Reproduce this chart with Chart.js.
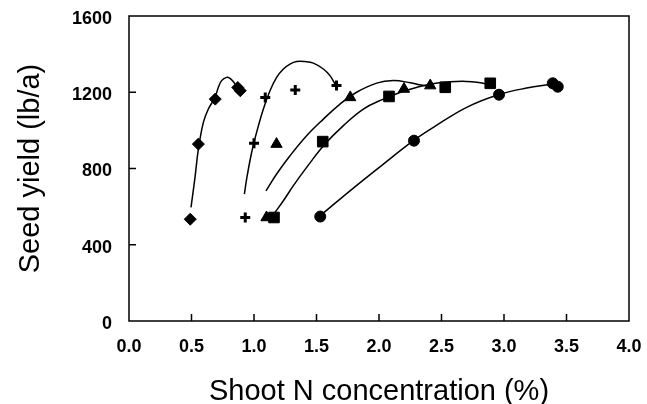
<!DOCTYPE html>
<html>
<head>
<meta charset="utf-8">
<script src="https://cdn.jsdelivr.net/npm/chart.js@4"></script>
<style>
  html, body { margin: 0; padding: 0; background: #fff; }
  #wrap { width: 647px; height: 404px; }
</style>
</head>
<body>
<div id="wrap"><canvas id="chart" width="647" height="404"></canvas></div>
<script>
// tick values
const xTicks = [0, 0.5, 1.0, 1.5, 2.0, 2.5, 3.0, 3.5, 4.0];
const yTicks = [0, 400, 800, 1200, 1600];

// measured points (x = shoot N %, y = seed yield lb/a)
const diamondX = [0.49, 0.555, 0.69, 0.87, 0.89];
const diamondY = [534, 928, 1164, 1225, 1208];
const crossX = [0.93, 1.0, 1.09, 1.33, 1.66];
const crossY = [543, 933, 1173, 1212, 1235];
const triangleX = [1.10, 1.18, 1.77, 2.20, 2.41];
const triangleY = [543, 928, 1173, 1217, 1235];
const squareX = [1.16, 1.55, 2.08, 2.53, 2.89];
const squareY = [543, 941, 1178, 1226, 1247];
const circleX = [1.53, 2.28, 2.96, 3.39, 3.43];
const circleY = [548, 946, 1187, 1247, 1229];

// fitted response curves
const diamondCurveX = [0.496, 0.528, 0.555, 0.595, 0.635, 0.688, 0.715, 0.741, 0.781, 0.808, 0.834, 0.848];
const diamondCurveY = [596, 753, 902, 1042, 1112, 1173, 1226, 1261, 1278, 1273, 1256, 1243];
const crossCurveX = [0.923, 0.941, 0.981, 1.021, 1.075, 1.128, 1.181, 1.235, 1.288, 1.341, 1.408, 1.475, 1.555, 1.608, 1.648];
const crossCurveY = [666, 744, 884, 990, 1112, 1208, 1278, 1322, 1348, 1361, 1361, 1353, 1322, 1287, 1243];
const triangleCurveX = [1.096, 1.181, 1.288, 1.421, 1.555, 1.688, 1.821, 1.981, 2.115, 2.25, 2.34, 2.41];
const triangleCurveY = [683, 771, 867, 972, 1059, 1138, 1200, 1248, 1261, 1250, 1238, 1232];
const squareCurveX = [1.168, 1.235, 1.315, 1.421, 1.568, 1.715, 1.875, 2.035, 2.168, 2.30, 2.43, 2.57, 2.70, 2.81, 2.86];
const squareCurveY = [570, 631, 710, 806, 928, 1025, 1112, 1164, 1199, 1225, 1245, 1255, 1257, 1250, 1243];
const circleCurveX = [1.528, 1.768, 2.035, 2.275, 2.435, 2.701, 2.955, 3.181, 3.381];
const circleCurveY = [552, 683, 823, 946, 1016, 1121, 1187, 1222, 1243];

function pts(xs, ys) {
    return xs.map((x, i) => ({ x: x, y: ys[i] }));
}

function markerSet(xs, ys, style, radius, width) {
    return {
        data: pts(xs, ys),
        showLine: false,
        pointStyle: style,
        pointRadius: radius,
        pointBackgroundColor: '#000',
        pointBorderColor: '#000',
        pointBorderWidth: width
    };
}

function curveSet(xs, ys) {
    return {
        data: pts(xs, ys),
        showLine: true,
        borderColor: '#000',
        borderWidth: 1.5,
        pointRadius: 0,
        tension: 0.4,
        fill: false
    };
}

// frame and inward tick marks
const framePlugin = {
    id: 'frame',
    afterDraw(chart) {
        const ctx = chart.ctx;
        const a = chart.chartArea;
        const xs = chart.scales.x;
        const ys = chart.scales.y;
        ctx.save();
        ctx.strokeStyle = '#000';
        ctx.lineWidth = 1.5;
        ctx.strokeRect(a.left, a.top, a.right - a.left, a.bottom - a.top);
        ctx.beginPath();
        xTicks.slice(1, -1).forEach(v => {
            const px = xs.getPixelForValue(v);
            ctx.moveTo(px, a.bottom);
            ctx.lineTo(px, a.bottom - 7);
        });
        yTicks.slice(1, -1).forEach(v => {
            const py = ys.getPixelForValue(v);
            ctx.moveTo(a.left, py);
            ctx.lineTo(a.left + 7, py);
        });
        ctx.stroke();
        ctx.restore();
    }
};

const ctx = document.getElementById('chart').getContext('2d');
new Chart(ctx, {
    type: 'scatter',
    data: {
        datasets: [
            curveSet(diamondCurveX, diamondCurveY),
            curveSet(crossCurveX, crossCurveY),
            curveSet(triangleCurveX, triangleCurveY),
            curveSet(squareCurveX, squareCurveY),
            curveSet(circleCurveX, circleCurveY),
            markerSet(diamondX, diamondY, 'rectRot', 6, 1),
            markerSet(crossX, crossY, 'cross', 5, 3),
            markerSet(triangleX, triangleY, 'triangle', 6.5, 1),
            markerSet(squareX, squareY, 'rect', 7.5, 1),
            markerSet(circleX, circleY, 'circle', 5.5, 1)
        ]
    },
    options: {
        responsive: false,
        animation: false,
        layout: { padding: { left: 0, right: 18, top: 16, bottom: 0 } },
        plugins: { legend: { display: false }, tooltip: { enabled: false } },
        scales: {
            x: {
                type: 'linear',
                min: 0,
                max: 4,
                afterBuildTicks: s => { s.ticks = xTicks.map(v => ({ value: v })); },
                afterFit: s => {
                    s.height = 83;
                    s.paddingLeft = 0;
                    s.paddingRight = 0;
                },
                grid: { display: false, drawTicks: false },
                border: { display: false },
                ticks: {
                    color: '#000',
                    padding: 15,
                    maxRotation: 0,
                    font: { family: 'Liberation Sans', size: 18, weight: 'bold' },
                    callback: v => v.toFixed(1)
                },
                title: {
                    display: true,
                    text: 'Shoot N concentration (%)',
                    color: '#000',
                    padding: { top: 0, bottom: 0 },
                    font: { family: 'Liberation Sans', size: 29, lineHeight: 0.85 }
                }
            },
            y: {
                min: 0,
                max: 1600,
                afterBuildTicks: s => { s.ticks = yTicks.map(v => ({ value: v })); },
                afterFit: s => {
                    s.width = 129;
                    s.paddingTop = 0;
                    s.paddingBottom = 0;
                },
                grid: { display: false, drawTicks: false },
                border: { display: false },
                ticks: {
                    color: '#000',
                    padding: 17,
                    labelOffset: 3,
                    font: { family: 'Liberation Sans', size: 18, weight: 'bold' },
                    callback: v => String(v)
                },
                title: {
                    display: true,
                    text: 'Seed yield (lb/a)',
                    color: '#000',
                    padding: { top: 16, bottom: 0 },
                    font: { family: 'Liberation Sans', size: 29, lineHeight: 1 }
                }
            }
        }
    },
    plugins: [framePlugin]
});
</script>
</body>
</html>
